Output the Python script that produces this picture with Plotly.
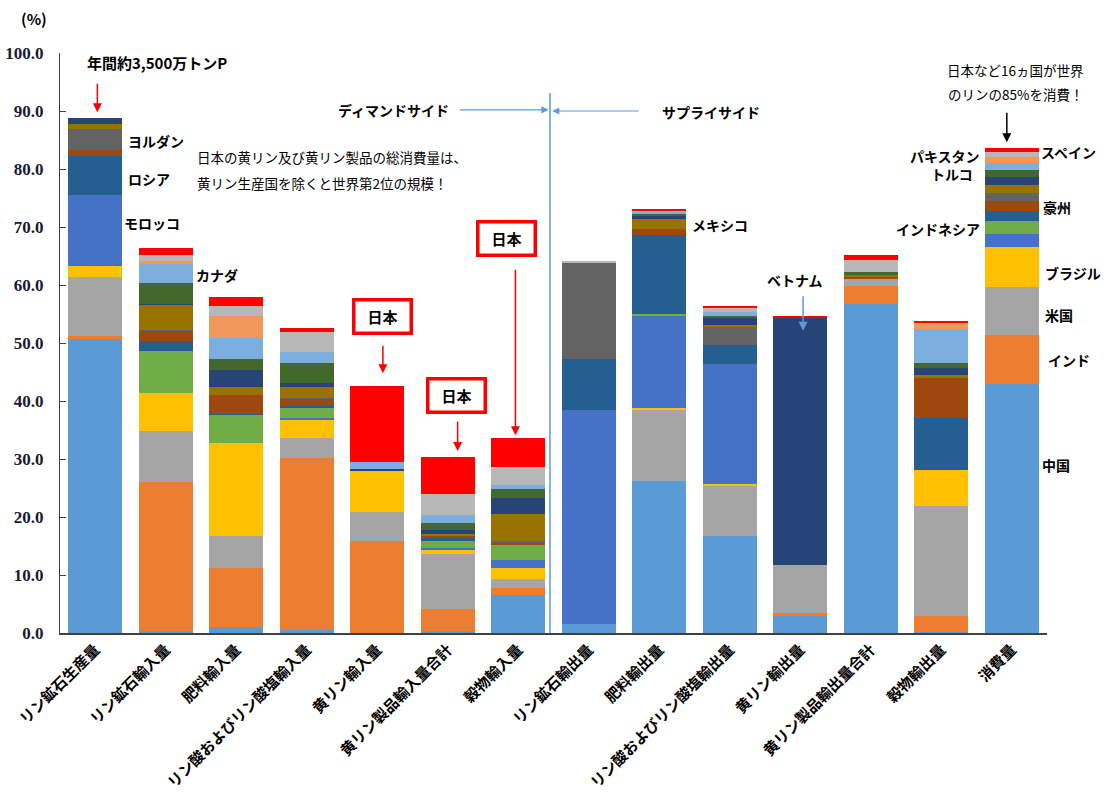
import plotly.graph_objects as go

categories = ["リン鉱石生産量", "リン鉱石輸入量", "肥料輸入量", "リン酸およびリン酸塩輸入量",
              "黄リン輸入量", "黄リン製品輸入量合計", "穀物輸入量", "リン鉱石輸出量",
              "肥料輸出量", "リン酸およびリン酸塩輸出量", "黄リン輸出量", "黄リン製品輸出量合計",
              "穀物輸出量", "消費量"]

china     = [50.7, 0.3, 1.0, 0.6, 0, 0.3, 6.6, 1.5, 26.2, 16.8, 3.1, 56.8, 0.2, 42.9]
india     = [0.5, 25.7, 10.2, 29.6, 15.9, 3.8, 1.2, 0, 0, 0, 0.3, 3.0, 2.7, 8.5]
usa       = [10.1, 8.9, 5.6, 3.5, 4.9, 9.5, 1.5, 0, 12.3, 8.5, 8.3, 1.3, 19.0, 8.2]
brazil    = [2.0, 6.5, 16.0, 3.1, 7.2, 0.7, 1.9, 0, 0.3, 0.4, 0, 0, 6.2, 6.9]
morocco   = [12.3, 0, 0, 0.3, 0, 0.4, 1.4, 37.0, 16.0, 20.7, 0, 0, 0, 2.3]
indonesia = [0, 7.2, 4.8, 1.7, 0, 1.2, 2.5, 0, 0.2, 0, 0, 0, 0, 2.2]
russia    = [6.6, 1.7, 0.2, 0.3, 0, 0.4, 0, 8.8, 13.6, 3.2, 0, 0, 9.0, 1.7]
australia = [1.0, 1.8, 3.3, 1.3, 0, 0.4, 0.5, 0, 1.1, 0, 0, 0.4, 6.8, 1.7]
jordan    = [3.7, 0.2, 0, 0.2, 0, 0, 0.2, 16.6, 0, 3.3, 0, 0, 0, 1.5]
mexico    = [0.8, 4.3, 1.3, 1.8, 0, 0.4, 4.7, 0, 1.6, 0.2, 0, 0.3, 0.5, 1.4]
vietnam   = [1.1, 0.2, 2.9, 0.7, 0.3, 0.7, 2.8, 0, 0.7, 1.2, 42.7, 0, 1.3, 1.4]
pakistan  = [0, 3.6, 2.0, 3.5, 0, 1.1, 1.6, 0, 0.3, 0.4, 0, 0.4, 0.9, 1.1]
canada    = [0, 3.3, 3.5, 1.8, 1.1, 1.4, 0.6, 0, 0.3, 0.6, 0, 0, 5.8, 1.3]
turkey    = [0, 0.5, 3.9, 0, 0, 0, 0, 0, 0, 0, 0, 0, 1.0, 0.9]
spain     = [0, 1.0, 1.6, 3.5, 0, 3.7, 3.1, 0.1, 0.3, 0.8, 0, 2.1, 0, 0.9]
japan     = [0, 1.1, 1.6, 0.7, 13.2, 6.3, 5.0, 0, 0.2, 0.3, 0.3, 0.8, 0.4, 0.7]

series = [
    ("中国", china, "#5B9BD5"),
    ("インド", india, "#ED7D31"),
    ("米国", usa, "#A5A5A5"),
    ("ブラジル", brazil, "#FFC000"),
    ("モロッコ", morocco, "#4472C4"),
    ("インドネシア", indonesia, "#70AD47"),
    ("ロシア", russia, "#255E91"),
    ("豪州", australia, "#9E480E"),
    ("ヨルダン", jordan, "#636363"),
    ("メキシコ", mexico, "#997300"),
    ("ベトナム", vietnam, "#264478"),
    ("パキスタン", pakistan, "#43682B"),
    ("カナダ", canada, "#7CAFDD"),
    ("トルコ", turkey, "#F1975A"),
    ("スペイン", spain, "#B7B7B7"),
    ("日本", japan, "#FF0000"),
]

JP = "Noto Sans CJK JP"
xs = list(range(len(categories)))

fig = go.Figure()
for name, vals, col in series:
    fig.add_trace(go.Bar(x=xs, y=vals, name=name, marker=dict(color=col, line=dict(width=0))))

anns = []

def label(x, y, text, anchor="left", size=14, bold=True, color="#000000"):
    t = f"<b>{text}</b>" if bold else text
    anns.append(dict(x=x, y=y, xref="x", yref="y", text=t, showarrow=False,
                     xanchor=anchor, yanchor="middle",
                     font=dict(family=JP, size=size, color=color)))

def arrow(x, y, ax, ay, color, width=1.5, head=2):
    anns.append(dict(x=x, y=y, xref="x", yref="y", text="", showarrow=True,
                     ax=ax, ay=ay, arrowcolor=color, arrowwidth=width,
                     arrowhead=head, arrowsize=1.2, standoff=0, startstandoff=0))

def box(x, y, text):
    anns.append(dict(x=x, y=y, xref="x", yref="y", text=f"<b>{text}</b>", showarrow=False,
                     xanchor="center", yanchor="middle", width=48, height=24,
                     bordercolor="#FF0000", borderwidth=3.5, borderpad=3, bgcolor="white",
                     font=dict(family=JP, size=15, color="#000000")))

# (%) label (paper coords, above plot area)
anns.append(dict(x=-0.026, y=1.06, xref="paper", yref="paper", text="<b>(%)</b>",
                 showarrow=False, xanchor="center", yanchor="middle",
                 font=dict(family=JP, size=15, color="#000000")))

# Production annotation
label(0.87, 98.4, "年間約3,500万トンP", anchor="center", size=15)
arrow(0.03, 89.8, 0, -30, "#FF0000")

# Japan text block
label(1.42, 82.1, "日本の黄リン及び黄リン製品の総消費量は、", size=13.5, bold=False)
label(1.42, 77.6, "黄リン生産国を除くと世界第2位の規模！", size=13.5, bold=False)

# country labels near first bars
label(0.43, 84.8, "ヨルダン")
label(0.43, 78.3, "ロシア")
label(0.38, 70.7, "モロッコ")
label(1.40, 61.7, "カナダ")

# Japan boxes and arrows
box(4.07, 54.5, "日本")
arrow(4.08, 44.8, 0, -29, "#FF0000")
box(5.13, 41.0, "日本")
arrow(5.14, 31.4, 0, -31, "#FF0000")
box(5.84, 68.1, "日本")
arrow(5.96, 34.1, 0, -167, "#FF0000")

# demand / supply
label(5.04, 90.2, "ディマンドサイド", anchor="right", size=14)
arrow(6.43, 90.2, -90, 0, "#5B9BD5", width=1.2)
label(8.01, 89.8, "サプライサイド", anchor="left", size=14)
arrow(6.48, 90.0, 88, 0, "#5B9BD5", width=1.2)

label(8.44, 70.3, "メキシコ")
label(9.93, 60.9, "ベトナム", anchor="center")
arrow(10.04, 52.1, 0, -36, "#5B9BD5", width=1.5)

# consumption annotations
label(13.06, 97.1, "日本など16ヵ国が世界", anchor="center", size=13.5, bold=False)
label(13.06, 92.9, "のリンの85%を消費！", anchor="center", size=13.5, bold=False)
arrow(12.93, 84.6, 0, -31, "#000000")

label(13.39, 82.9, "スペイン")
label(12.58, 82.2, "パキスタン", anchor="right")
label(12.48, 79.2, "トルコ", anchor="right")
label(13.42, 73.4, "豪州")
label(12.58, 69.7, "インドネシア", anchor="right")
label(13.45, 62.1, "ブラジル")
label(13.45, 54.8, "米国")
label(13.48, 47.1, "インド")
label(13.40, 29.0, "中国")

fig.update_layout(
    barmode="stack",
    bargap=0.234,
    width=1107, height=794,
    margin=dict(l=60, r=60, t=53, b=161, autoexpand=False),
    paper_bgcolor="white", plot_bgcolor="white",
    showlegend=False,
    font=dict(family=JP, color="#000000"),
    annotations=anns,
    shapes=[dict(type="line", xref="x", yref="y", x0=6.45, x1=6.45, y0=0, y1=93.1,
                 line=dict(color="#5B9BD5", width=1.5))],
    xaxis=dict(range=[-0.5, 13.5], tickmode="array", tickvals=xs, ticktext=categories,
               tickangle=-45, showgrid=False, zeroline=False, automargin=False,
               showline=True, linecolor="#404040", linewidth=2, ticks="",
               tickfont=dict(family=JP, size=15, color="#000000", weight="bold")),
    yaxis=dict(range=[0, 100], dtick=10, tickformat=".1f", showgrid=False, zeroline=False,
               automargin=False, showline=True, linecolor="#404040", linewidth=1,
               ticks="inside", ticklen=6, tickcolor="#404040", ticklabelstandoff=12,
               tickfont=dict(family="Liberation Serif", size=17, color="#1a1a2e", weight="bold")),
)

fig.write_html("out.html")
